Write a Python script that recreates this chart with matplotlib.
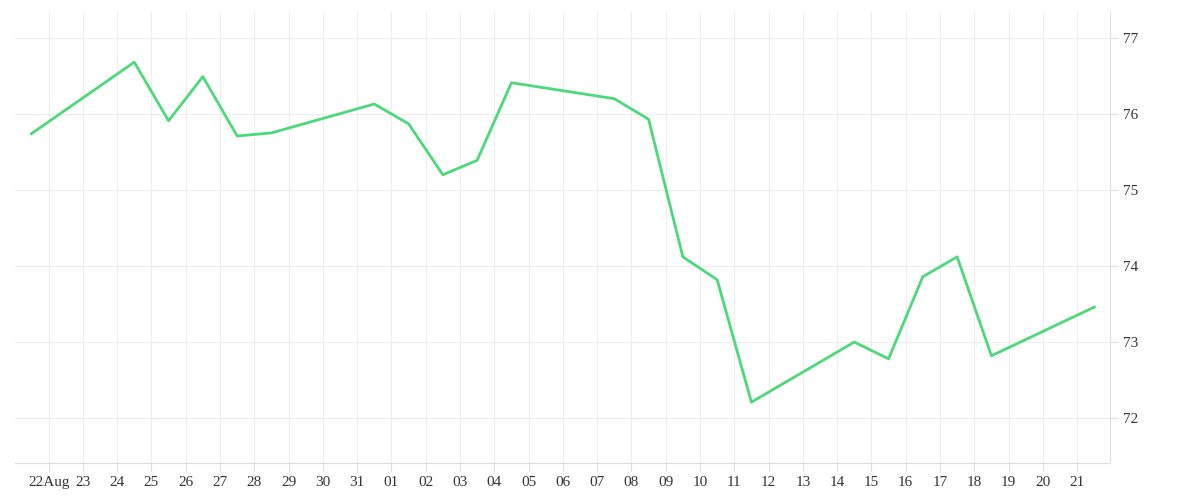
import matplotlib
matplotlib.use("Agg")
import matplotlib.pyplot as plt
import matplotlib.dates as mdates
import pandas as pd

dates = ["2023-08-21 12:00","2023-08-24 12:00","2023-08-25 12:00","2023-08-26 12:00","2023-08-27 12:00",
         "2023-08-28 12:00","2023-08-31 12:00","2023-09-01 12:00","2023-09-02 12:00","2023-09-03 12:00",
         "2023-09-04 12:00","2023-09-07 12:00","2023-09-08 12:00","2023-09-09 12:00","2023-09-10 12:00",
         "2023-09-11 12:00","2023-09-14 12:00","2023-09-15 12:00","2023-09-16 12:00","2023-09-17 12:00",
         "2023-09-18 12:00","2023-09-21 12:00"]
values = [75.74,76.68,75.91,76.49,75.71,75.75,76.13,75.87,75.20,75.39,76.41,76.20,75.93,74.12,73.82,
          72.21,73.00,72.78,73.86,74.12,72.82,73.46]
tick_dates = pd.date_range("2023-08-22","2023-09-21",freq="D")
tick_labels = ["22Aug"] + [d.strftime("%d") for d in tick_dates[1:]]

x = pd.to_datetime(dates)
fig = plt.figure(figsize=(12,5), dpi=100)
ax = fig.add_axes([0.0125, 0.074, 0.9125, 0.902])
ax.plot(x, values, color="#4cd97b", lw=2)
ax.set_xlim(pd.Timestamp("2023-08-21 00:30"), pd.Timestamp("2023-09-21 23:00"))
ax.set_ylim(71.41, 77.34)
ax.set_xticks(tick_dates)
ax.set_xticklabels(tick_labels)
ax.set_yticks([72,73,74,75,76,77])
ax.yaxis.tick_right()
ax.grid(True, color="#eeeeee", lw=0.8)
for s in ["top","left"]:
    ax.spines[s].set_visible(False)
for s in ["right","bottom"]:
    ax.spines[s].set_color("#dddddd")
ax.tick_params(colors="#dddddd", labelcolor="#333333", labelsize=11, length=6)
for t in ax.get_xticklabels()+ax.get_yticklabels():
    t.set_family("Liberation Serif")
fig.savefig("out.png")
